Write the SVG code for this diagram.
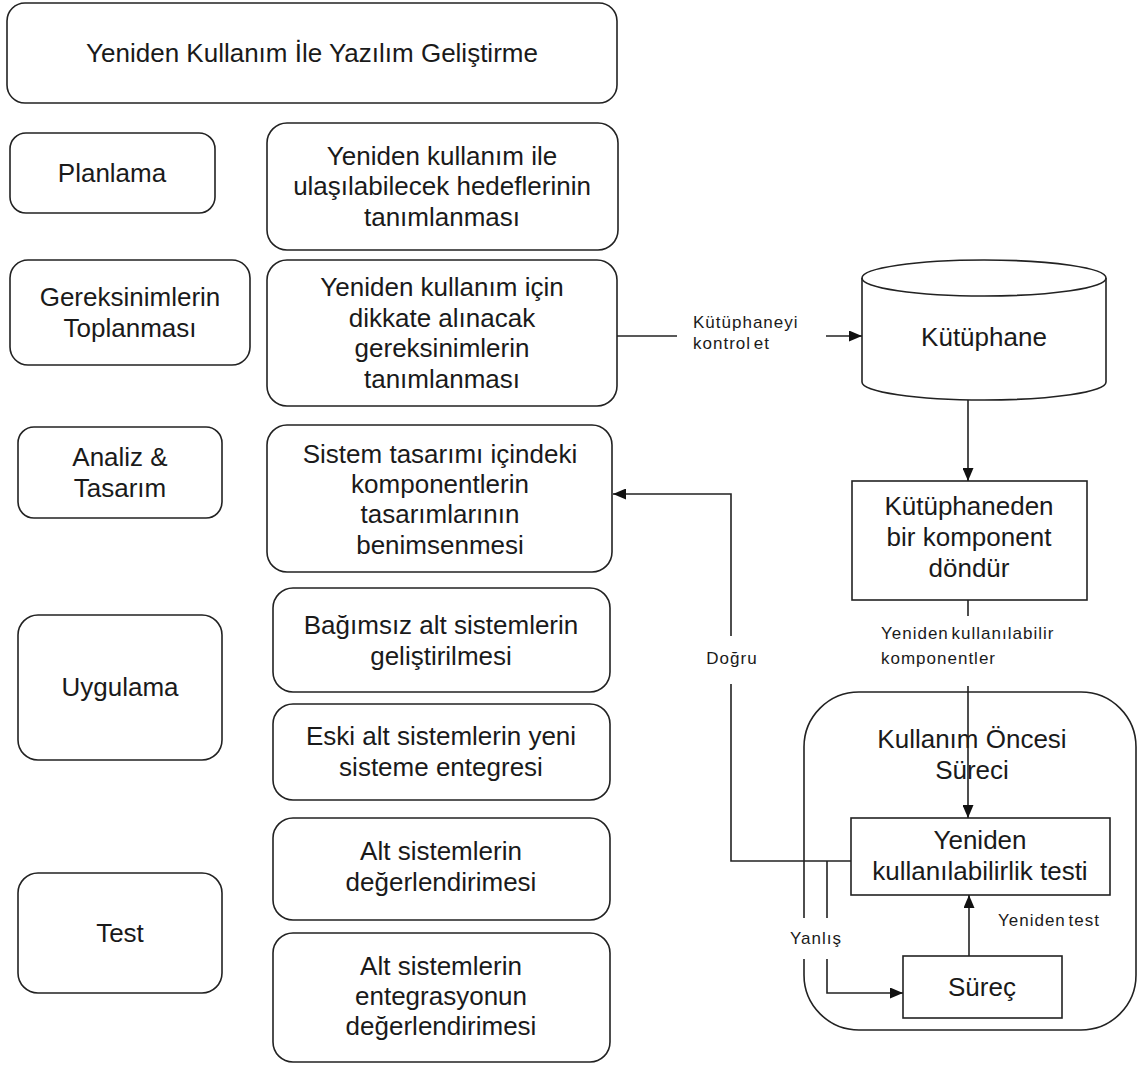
<svg xmlns="http://www.w3.org/2000/svg" width="1139" height="1068" viewBox="0 0 1139 1068">
  <style>
    .box { fill: #ffffff; stroke: #222222; stroke-width: 1.6; }
    .t { font-family: "Liberation Sans", Arial, sans-serif; font-size: 26px; fill: #1a1a1a; text-anchor: middle; }
    .lbl { font-family: "Liberation Sans", Arial, sans-serif; font-size: 17px; fill: #1a1a1a; letter-spacing: 1px; word-spacing: -3px; }
    .line { fill: none; stroke: #222222; stroke-width: 1.6; }
    .arrow { marker-end: url(#head); }
    .bg { fill: #ffffff; stroke: none; }
  </style>
  <defs>
    <marker id="head" viewBox="0 0 13 11" refX="13" refY="5.5" markerWidth="13" markerHeight="11" markerUnits="userSpaceOnUse" orient="auto">
      <path d="M0,0 L13,5.5 L0,11 Z" fill="#111111"/>
    </marker>
  </defs>
  <rect width="1139" height="1068" fill="#ffffff"/>

  <!-- outer container for the pre-use process -->
  <g id="kullanim-oncesi">
    <rect class="box" x="804" y="692" width="332" height="338" rx="55"/>
    <text class="t" x="972" y="748">Kullanım Öncesi</text>
    <text class="t" x="972" y="779">Süreci</text>
  </g>

  <!-- left column: phases -->
  <g id="baslik">
    <rect class="box" x="7" y="3" width="610" height="100" rx="18"/>
    <text class="t" x="312" y="62">Yeniden Kullanım İle Yazılım Geliştirme</text>
  </g>
  <g id="planlama">
    <rect class="box" x="10" y="133" width="205" height="80" rx="16"/>
    <text class="t" x="112" y="182">Planlama</text>
  </g>
  <g id="gereksinimler">
    <rect class="box" x="10" y="260" width="240" height="105" rx="18"/>
    <text class="t" x="130" y="306">Gereksinimlerin</text>
    <text class="t" x="130" y="337">Toplanması</text>
  </g>
  <g id="analiz">
    <rect class="box" x="18" y="427" width="204" height="91" rx="16"/>
    <text class="t" x="120" y="466">Analiz &amp;</text>
    <text class="t" x="120" y="497">Tasarım</text>
  </g>
  <g id="uygulama">
    <rect class="box" x="18" y="615" width="204" height="145" rx="20"/>
    <text class="t" x="120" y="696">Uygulama</text>
  </g>
  <g id="test">
    <rect class="box" x="18" y="873" width="204" height="120" rx="20"/>
    <text class="t" x="120" y="942">Test</text>
  </g>

  <!-- middle column: activities -->
  <g id="hedefler">
    <rect class="box" x="267" y="123" width="351" height="127" rx="20"/>
    <text class="t" x="442" y="165">Yeniden kullanım ile</text>
    <text class="t" x="442" y="195">ulaşılabilecek hedeflerinin</text>
    <text class="t" x="442" y="226">tanımlanması</text>
  </g>
  <g id="gereksinim-tanim">
    <rect class="box" x="267" y="260" width="350" height="146" rx="20"/>
    <text class="t" x="442" y="296">Yeniden kullanım için</text>
    <text class="t" x="442" y="327">dikkate alınacak</text>
    <text class="t" x="442" y="357">gereksinimlerin</text>
    <text class="t" x="442" y="388">tanımlanması</text>
  </g>
  <g id="tasarim">
    <rect class="box" x="267" y="425" width="345" height="147" rx="20"/>
    <text class="t" x="440" y="463">Sistem tasarımı içindeki</text>
    <text class="t" x="440" y="493">komponentlerin</text>
    <text class="t" x="440" y="523">tasarımlarının</text>
    <text class="t" x="440" y="554">benimsenmesi</text>
  </g>
  <g id="bagimsiz">
    <rect class="box" x="273" y="588" width="337" height="104" rx="20"/>
    <text class="t" x="441" y="634">Bağımsız alt sistemlerin</text>
    <text class="t" x="441" y="665">geliştirilmesi</text>
  </g>
  <g id="eski">
    <rect class="box" x="273" y="704" width="337" height="96" rx="20"/>
    <text class="t" x="441" y="745">Eski alt sistemlerin yeni</text>
    <text class="t" x="441" y="776">sisteme entegresi</text>
  </g>
  <g id="alt-deger">
    <rect class="box" x="273" y="818" width="337" height="102" rx="20"/>
    <text class="t" x="441" y="860">Alt sistemlerin</text>
    <text class="t" x="441" y="891">değerlendirimesi</text>
  </g>
  <g id="entegrasyon-deger">
    <rect class="box" x="273" y="933" width="337" height="129" rx="20"/>
    <text class="t" x="441" y="975">Alt sistemlerin</text>
    <text class="t" x="441" y="1005">entegrasyonun</text>
    <text class="t" x="441" y="1035">değerlendirimesi</text>
  </g>

  <!-- right side: library flow -->
  <g id="kutuphane">
    <path class="box" d="M862,278 A122,18 0 0 1 1106,278 L1106,382 A122,18 0 0 1 862,382 Z"/>
    <path class="line" d="M862,278 A122,18 0 0 0 1106,278"/>
    <text class="t" x="984" y="346">Kütüphane</text>
  </g>
  <g id="komponent-dondur">
    <rect class="box" x="852" y="481" width="235" height="119"/>
    <text class="t" x="969" y="515">Kütüphaneden</text>
    <text class="t" x="969" y="546">bir komponent</text>
    <text class="t" x="969" y="577">döndür</text>
  </g>
  <g id="kullanilabilirlik-testi">
    <rect class="box" x="851" y="818" width="259" height="77"/>
    <text class="t" x="980" y="849">Yeniden</text>
    <text class="t" x="980" y="880">kullanılabilirlik testi</text>
  </g>
  <g id="surec">
    <rect class="box" x="903" y="956" width="159" height="62"/>
    <text class="t" x="982" y="996">Süreç</text>
  </g>

  <!-- connectors -->
  <g id="baglantilar">
    <line class="line arrow" x1="617" y1="336" x2="862" y2="336"/>
    <line class="line arrow" x1="968" y1="400" x2="968" y2="481"/>
    <line class="line arrow" x1="968" y1="600" x2="968" y2="818"/>
    <polyline class="line arrow" points="851,861 731,861 731,494 613,494"/>
    <polyline class="line arrow" points="827,861 827,993 903,993"/>
    <line class="line arrow" x1="969" y1="956" x2="969" y2="895"/>

    <!-- connector labels -->
    <rect class="bg" x="677" y="310" width="149" height="52"/>
    <text class="lbl" x="693" y="328">Kütüphaneyi</text>
    <text class="lbl" x="693" y="349">kontrol et</text>

    <rect class="bg" x="700" y="636" width="64" height="48"/>
    <text class="lbl" x="732" y="664" text-anchor="middle">Doğru</text>

    <rect class="bg" x="876" y="616" width="186" height="70"/>
    <text class="lbl" x="881" y="639">Yeniden kullanılabilir</text>
    <text class="lbl" x="881" y="664">komponentler</text>

    <rect class="bg" x="786" y="918" width="60" height="41"/>
    <text class="lbl" x="790" y="944">Yanlış</text>

    <text class="lbl" x="998" y="926">Yeniden test</text>
  </g>
</svg>
